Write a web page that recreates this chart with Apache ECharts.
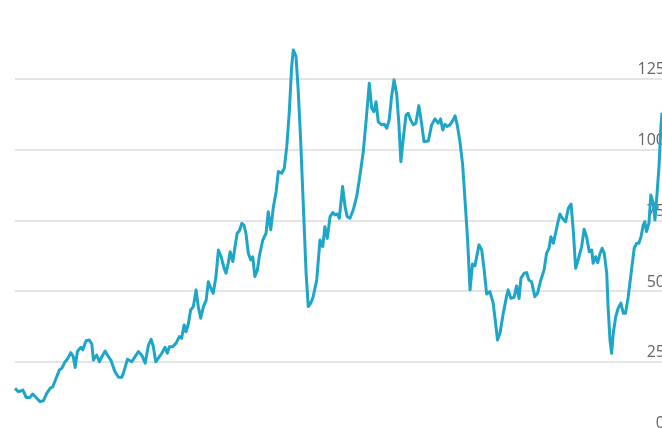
<!DOCTYPE html>
<html>
<head>
<meta charset="utf-8">
<script src="https://cdn.jsdelivr.net/npm/echarts@6/dist/echarts.min.js"></script>
<style>
html,body{margin:0;padding:0;background:#fff;}
#c{width:662px;height:428px;}
</style>
</head>
<body>
<div id="c"></div>
<script>
// Decimal years (time position of each reading)
const years = [
1998.29,1998.41,1998.58,1998.70,1998.84,1998.94,1999.09,1999.21,1999.33,1999.46,
1999.58,1999.68,1999.80,1999.92,2000.01,2000.13,2000.21,2000.34,2000.43,2000.50,
2000.58,2000.71,2000.78,2000.90,2001.02,2001.11,2001.17,2001.29,2001.39,2001.48,
2001.60,2001.72,2001.81,2001.88,2001.96,2002.09,2002.21,2002.27,2002.42,2002.58,
2002.70,2002.82,2002.94,2003.07,2003.19,2003.29,2003.37,2003.46,2003.55,2003.68,
2003.80,2003.88,2003.96,2004.08,2004.20,2004.33,2004.41,2004.50,2004.57,2004.66,
2004.74,2004.84,2004.94,2005.02,2005.11,2005.21,2005.31,2005.39,2005.48,2005.57,
2005.67,2005.76,2005.86,2005.97,2006.04,2006.12,2006.19,2006.29,2006.37,2006.45,
2006.53,2006.62,2006.70,2006.77,2006.86,2006.95,2007.02,2007.10,2007.19,2007.26,
2007.39,2007.51,2007.59,2007.68,2007.78,2007.88,2007.96,2008.08,2008.18,2008.27,
2008.36,2008.45,2008.51,2008.61,2008.69,2008.78,2008.88,2008.98,2009.06,2009.15,
2009.24,2009.37,2009.49,2009.59,2009.67,2009.76,2009.86,2009.96,2010.04,2010.13,
2010.20,2010.32,2010.41,2010.49,2010.59,2010.71,2010.84,2010.96,2011.08,2011.18,
2011.30,2011.39,2011.47,2011.55,2011.63,2011.76,2011.85,2011.94,2012.03,2012.12,
2012.21,2012.31,2012.39,2012.46,2012.55,2012.65,2012.73,2012.82,2012.92,2013.01,
2013.12,2013.22,2013.31,2013.47,2013.59,2013.71,2013.83,2013.92,2014.00,2014.08,
2014.16,2014.26,2014.36,2014.45,2014.53,2014.63,2014.73,2014.81,2014.91,2015.00,
2015.09,2015.18,2015.33,2015.43,2015.52,2015.61,2015.73,2015.85,2015.94,2016.01,
2016.10,2016.22,2016.34,2016.40,2016.50,2016.62,2016.71,2016.80,2016.87,2016.99,
2017.08,2017.16,2017.26,2017.38,2017.48,2017.60,2017.72,2017.81,2017.90,2017.97,
2018.06,2018.14,2018.22,2018.30,2018.39,2018.51,2018.61,2018.71,2018.79,2018.88,
2018.97,2019.10,2019.19,2019.28,2019.38,2019.47,2019.52,2019.61,2019.69,2019.77,
2019.85,2019.93,2020.02,2020.07,2020.14,2020.20,2020.26,2020.35,2020.44,2020.54,
2020.63,2020.71,2020.81,2020.93,2021.03,2021.12,2021.20,2021.28,2021.36,2021.42,
2021.48,2021.57,2021.64,2021.73,2021.79,2021.85,2021.94,2022.01,2022.05
];
// Price values
const prices = [
15.6,14.4,15.0,12.4,12.4,13.6,12.1,10.9,11.2,13.9,
15.6,16.2,19.2,22.1,22.7,25.0,25.9,28.2,26.8,23.0,
28.6,30.1,29.2,32.4,32.7,31.3,25.6,27.4,25.0,26.8,
28.8,26.8,25.6,25.9,21.5,19.5,19.5,20.9,25.9,25.0,
26.8,28.6,27.4,24.5,30.9,32.9,30.3,25.0,26.2,28.0,
30.1,28.0,30.3,30.3,31.5,33.9,33.3,38.0,35.6,38.6,
43.3,44.5,50.4,44.5,40.4,44.5,46.8,53.3,51.0,49.2,
55.1,64.5,62.1,58.0,56.3,59.8,63.9,60.4,65.7,70.4,
71.3,73.9,73.3,70.4,63.3,61.0,62.1,55.1,57.4,62.1,
68.0,70.4,78.0,71.6,79.8,85.1,92.2,91.6,93.4,101.0,
112.8,129.3,135.2,132.8,121.0,103.4,79.8,56.3,44.5,45.7,
48.0,53.9,68.0,65.7,72.7,68.6,76.3,77.7,76.9,77.2,
75.7,86.9,79.8,76.3,75.7,78.6,83.5,91.0,99.2,109.8,
123.4,114.6,113.4,116.9,109.8,108.7,108.9,107.5,110.4,118.7,
124.6,119.3,108.7,95.7,104.0,112.2,112.8,110.4,108.7,109.3,
115.5,109.3,102.8,103.0,108.7,110.8,109.3,110.8,106.9,108.9,
108.1,108.7,110.1,111.9,108.7,102.8,94.5,83.0,68.3,50.4,
59.5,58.9,66.3,64.5,57.4,48.9,49.8,45.7,38.6,32.7,
35.1,42.1,48.0,50.4,47.4,47.8,51.8,47.4,54.5,56.3,
56.5,53.9,53.3,48.0,49.2,53.9,57.4,63.3,65.1,69.2,
66.9,70.4,73.9,77.2,75.7,74.5,79.2,80.7,71.6,58.0,
61.0,65.7,71.8,69.2,63.9,64.5,59.8,62.1,60.0,63.1,
65.1,63.3,56.3,44.5,32.7,28.0,35.1,40.9,43.9,45.7,
42.1,42.1,48.0,57.4,65.1,66.9,66.9,69.2,73.3,74.5,
71.0,73.9,83.9,81.0,75.1,82.2,93.9,108.1,113.0
];
// Y axis ticks
const yTicks = [0, 25, 50, 75, 100, 125];

const data = years.map((y, i) => [y, prices[i]]);

const chart = echarts.init(document.getElementById('c'), null, {renderer: 'canvas'});
chart.setOption({
  animation: false,
  backgroundColor: '#ffffff',
  grid: {left: 15, right: 0, top: 36.3, height: 396.2, containLabel: false, outerBoundsMode: 'none'},
  xAxis: {
    type: 'value',
    min: 1998.29,
    max: 2022.05,
    show: false
  },
  yAxis: {
    type: 'value',
    position: 'right',
    min: 0,
    max: 140,
    interval: 25,
    axisLine: {show: false},
    axisTick: {show: false},
    splitLine: {
      show: true,
      lineStyle: {
        color: ['#dddddd','#dddddd','#dddddd','#dddddd','#dddddd','#dddddd','rgba(0,0,0,0)'],
        width: 1.5
      }
    },
    axisLabel: {
      inside: true,
      margin: -3,
      color: '#666666',
      fontFamily: 'Open Sans',
      fontSize: 16,
      verticalAlign: 'bottom',
      lineHeight: 18,
      formatter: function (v) { return yTicks.indexOf(v) >= 0 ? String(v) : ''; }
    }
  },
  series: [{
    type: 'line',
    data: data,
    showSymbol: false,
    symbol: 'none',
    lineStyle: {color: '#1ea6c9', width: 3, join: 'round'},
    clip: true
  }]
});
</script>
</body>
</html>
